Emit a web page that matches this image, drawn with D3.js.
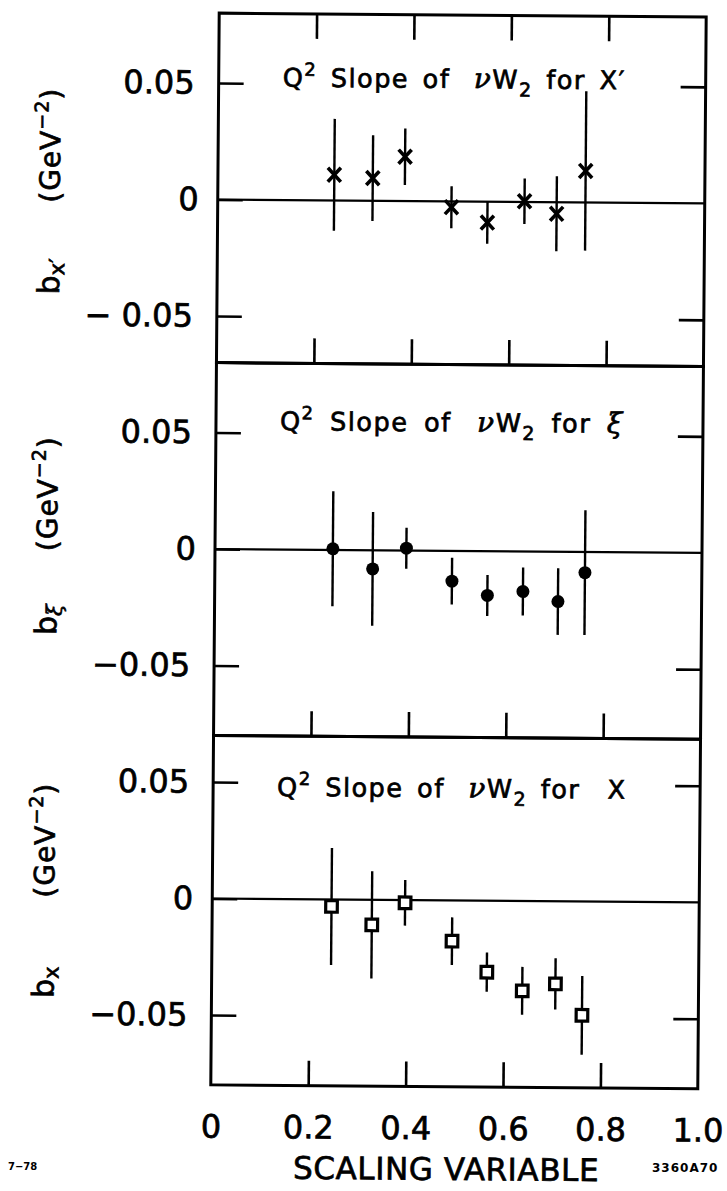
<!DOCTYPE html>
<html>
<head>
<meta charset="utf-8">
<script src="https://cdn.jsdelivr.net/npm/d3@7"></script>
<style>
  html, body { margin: 0; padding: 0; background: #fff; }
  svg { display: block; }
  text { font-family: "DejaVu Sans", sans-serif; fill: #000; stroke: #000; stroke-width: 0.7px; }
  text.plate { stroke-width: 0; }
</style>
</head>
<body>
<svg id="chart" width="727" height="1191"></svg>
<script>
// ---- Q^2 slope b (GeV^-2) versus scaling variable, three choices of variable ----
// x' (primed Bloom-Gilman variable)
const xPrime = [0.239, 0.318, 0.384, 0.480, 0.554, 0.630, 0.696, 0.755];
const bPrime = [0.011, 0.0097, 0.019, -0.0025, -0.009, 0.0003, -0.005, 0.0135];
const ePrime = [0.024, 0.0184, 0.0121, 0.009, 0.0091, 0.0098, 0.0161, 0.0342];

// xi (Nachtmann variable)
const xXi = [0.242, 0.324, 0.393, 0.487, 0.560, 0.633, 0.705, 0.760];
const bXi = [0.0005, -0.008, 0.001, -0.013, -0.019, -0.0172, -0.0214, -0.0089];
const eXi = [0.0247, 0.0244, 0.0088, 0.010, 0.0088, 0.0103, 0.0143, 0.0268];

// x (Bjorken)
const xX = [0.245, 0.328, 0.396, 0.493, 0.565, 0.638, 0.706, 0.761];
const bX = [-0.003, -0.0108, -0.0012, -0.0175, -0.0307, -0.0386, -0.0355, -0.0489];
const eX = [0.0251, 0.023, 0.0098, 0.0102, 0.0084, 0.0103, 0.011, 0.0169];

// axis ticks and labels
const xTickValues = [0, 0.2, 0.4, 0.6, 0.8, 1.0];
const xTickLabels = ["0", "0.2", "0.4", "0.6", "0.8", "1.0"];
const xInnerTicks = [0.2, 0.4, 0.6, 0.8];
const yTickValues = [0.05, 0, -0.05];
const yTickLabelsTop = ["0.05", "0", "\u2212 0.05"];
const yTickLabels = ["0.05", "0", "\u22120.05"];

// vertical range of each panel
const domainPrime = [-0.07, 0.08];
const domainXi = [-0.08, 0.08];
const domainX = [-0.08, 0.07];

// ---- layout ----
const left = 215, plotW = 487, top0 = 15, pxPerUnit = 2330;
const svg = d3.select("#chart");
svg.append("rect").attr("width", 727).attr("height", 1191).attr("fill", "#fff");
// the whole figure sits at a very slight clockwise tilt
const fig = svg.append("g").attr("transform", "rotate(0.45 457 550)");

const x = d3.scaleLinear().domain([0, 1]).range([left, left + plotW]);

const panels = [
  { xs: xPrime, b: bPrime, e: ePrime, domain: domainPrime, marker: "cross", topTicks: true,
    labels: yTickLabelsTop, sub: "x\u2032",
    title: [["Q"], ["2", "sup"], [" Slope of "], ["\u03BD", "nu"], ["W"], ["2", "sub"], [" for "], ["X\u2032"]],
    titleDy: 73, wordSp: 4, gevOff: -53, bOff: 78 },
  { xs: xXi, b: bXi, e: eXi, domain: domainXi, marker: "dot", topTicks: false,
    labels: yTickLabels, sub: "\u03BE",
    title: [["Q"], ["2", "sup"], [" Slope of "], ["\u03BD", "nu"], ["W"], ["2", "sub"], [" for "], ["\u03BE", "xi"]],
    titleDy: 67, wordSp: 6, gevOff: -54, bOff: 72 },
  { xs: xX, b: bX, e: eX, domain: domainX, marker: "square", topTicks: false,
    labels: yTickLabels, sub: "x",
    title: [["Q"], ["2", "sup"], [" Slope of "], ["\u03BD", "nu"], ["W"], ["2", "sub"], [" for  "], ["X"]],
    titleDy: 60, wordSp: 4, gevOff: -57, bOff: 85 }
];

const tickFont = s => s.selectAll(".tick text")
  .attr("font-size", 32).attr("font-family", "DejaVu Sans").attr("fill", "#000");

let yCursor = top0;
panels.forEach((p, i) => {
  const h = (p.domain[1] - p.domain[0]) * pxPerUnit;
  const y = d3.scaleLinear().domain(p.domain).range([yCursor + h, yCursor]);
  const g = fig.append("g");
  const isLast = i === panels.length - 1;

  // inward ticks
  const tickStyle = sel => {
    sel.select(".domain").remove();
    sel.selectAll(".tick line").attr("stroke", "#000").attr("stroke-width", 2.6);
  };
  g.append("g").attr("transform", `translate(${left},0)`)
    .call(d3.axisLeft(y).tickValues(yTickValues).tickSize(-25).tickPadding(24)
      .tickFormat((d, k) => p.labels[k]))
    .call(tickStyle)
    .call(tickFont)
    .call(s => s.selectAll(".tick text").filter(d => d === 0).attr("dx", 5));
  g.append("g").attr("transform", `translate(${left + plotW},0)`)
    .call(d3.axisRight(y).tickValues([0.05, -0.05]).tickSize(-25).tickFormat(""))
    .call(tickStyle);
  if (p.topTicks) {
    g.append("g").attr("transform", `translate(0,${y.range()[1]})`)
      .call(d3.axisTop(x).tickValues(xInnerTicks).tickSize(-25).tickFormat(""))
      .call(tickStyle);
  }
  g.append("g").attr("transform", `translate(0,${y.range()[0]})`)
    .call(d3.axisBottom(x).tickValues(xInnerTicks).tickSize(-25).tickFormat(""))
    .call(tickStyle);

  if (isLast) {
    g.append("g").attr("transform", `translate(0,${y.range()[0]})`)
      .call(d3.axisBottom(x).tickValues(xTickValues).tickSize(0).tickPadding(30)
        .tickFormat((d, k) => xTickLabels[k]))
      .call(s => s.select(".domain").remove())
      .call(tickFont);
  }

  // frame and zero line
  g.append("rect")
    .attr("x", left).attr("y", y.range()[1])
    .attr("width", plotW).attr("height", h)
    .attr("fill", "none").attr("stroke", "#000").attr("stroke-width", 3);
  g.append("line")
    .attr("x1", left).attr("x2", left + plotW)
    .attr("y1", y(0)).attr("y2", y(0))
    .attr("stroke", "#000").attr("stroke-width", 2.2);

  // title
  const t = g.append("text")
    .attr("x", 279).attr("y", y.range()[1] + p.titleDy)
    .attr("font-size", 25.5).attr("letter-spacing", 1.5).attr("word-spacing", p.wordSp)
    .attr("xml:space", "preserve").style("white-space", "pre");
  let shift = 0;
  p.title.forEach(([str, kind]) => {
    const ts = t.append("tspan").text(str);
    let target = 0;
    if (kind === "sup") { target = -11; ts.attr("font-size", 18); }
    if (kind === "sub") { target = 8; ts.attr("font-size", 19); }
    if (kind === "nu" || kind === "xi") {
      ts.attr("font-family", "DejaVu Serif").attr("font-style", "italic").attr("font-size", 28);
      if (kind === "nu") ts.attr("dx", 10);
    }
    ts.attr("dy", target - shift);
    shift = target;
  });

  // y-axis title, rotated
  const zeroY = y(0);
  const gev = g.append("text")
    .attr("transform", `translate(57,${zeroY + p.gevOff}) rotate(-90)`)
    .attr("text-anchor", "middle").attr("font-size", 28).attr("letter-spacing", 1);
  gev.append("tspan").text("(GeV");
  gev.append("tspan").text("\u22122").attr("font-size", 19).attr("dy", -12);
  gev.append("tspan").text(")").attr("dy", 12);
  const bl = g.append("text")
    .attr("transform", `translate(57,${zeroY + p.bOff}) rotate(-90)`)
    .attr("text-anchor", "middle").attr("font-size", 30);
  bl.append("tspan").text("b");
  bl.append("tspan").text(p.sub).attr("font-size", 21).attr("dy", 5)
    .attr("font-family", p.sub === "\u03BE" ? "DejaVu Serif" : "DejaVu Sans")
    .attr("font-style", p.sub === "\u03BE" ? "italic" : "normal");

  // error bars
  const pts = p.xs.map((xv, k) => ({ x: xv, b: p.b[k], e: p.e[k] }));
  g.selectAll(null).data(pts).enter().append("line")
    .attr("x1", d => x(d.x)).attr("x2", d => x(d.x))
    .attr("y1", d => y(d.b + d.e)).attr("y2", d => y(d.b - d.e))
    .attr("stroke", "#000").attr("stroke-width", 2.4);

  // markers
  const m = g.selectAll(null).data(pts).enter().append("g")
    .attr("transform", d => `translate(${x(d.x)},${y(d.b)})`);
  if (p.marker === "cross") {
    m.append("path").attr("d", "M-6.5,-7L6.5,7M-6.5,7L6.5,-7")
      .attr("stroke", "#000").attr("stroke-width", 3.6).attr("fill", "none");
  } else if (p.marker === "dot") {
    m.append("circle").attr("r", 6.5).attr("fill", "#000");
  } else {
    m.append("rect").attr("x", -5.8).attr("y", -5.8).attr("width", 11.6).attr("height", 11.6)
      .attr("fill", "#fff").attr("stroke", "#000").attr("stroke-width", 3.2);
  }

  yCursor += h;
});

// x-axis title and plate marks
fig.append("text").attr("x", 451).attr("y", 1180).attr("text-anchor", "middle")
  .attr("font-size", 31).attr("letter-spacing", 0.6).text("SCALING VARIABLE");
svg.append("text").attr("class", "plate").attr("x", 8).attr("y", 1170).attr("font-size", 10)
  .attr("font-weight", "bold").text("7\u221278");
svg.append("text").attr("class", "plate").attr("x", 652).attr("y", 1172).attr("font-size", 12)
  .attr("font-weight", "bold").attr("letter-spacing", 1).text("3360A70");
</script>
</body>
</html>
